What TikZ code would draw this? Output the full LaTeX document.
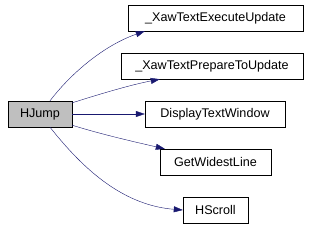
\documentclass[tikz,border=0pt]{standalone}
\usepackage{fontspec}
\setmainfont{Liberation Sans}
\usetikzlibrary{arrows.meta}
\definecolor{navyedge}{HTML}{191970}
\begin{document}
\begin{tikzpicture}[x=1pt,y=-1pt,
  fn/.style={draw, minimum height=26pt, inner sep=0pt, font=\fontsize{12.6}{14}\selectfont},
  call/.style={navyedge, -{Triangle[length=9pt,width=6pt]}}]
  % Cadre
  \useasboundingbox (0,0) rectangle (314,226);

  % Fonctions
  \node[fn, fill=gray!50, minimum width=64pt] (hjump) at (40,114) {HJump};
  \node[fn, minimum width=175pt] (exec) at (215.5,18) {\_XawTextExecuteUpdate};
  \node[fn, minimum width=182pt] (prep) at (212,66) {\_XawTextPrepareToUpdate};
  \node[fn, minimum width=140pt] (disp) at (215,114) {DisplayTextWindow};
  \node[fn, minimum width=111pt] (widest) at (215.5,162) {GetWidestLine};
  \node[fn, minimum width=65pt] (hscroll) at (215.5,210) {HScroll};

  % Appels
  \draw[call] ([xshift=10pt]hjump.north) .. controls (72,72) and (105,45) .. ([xshift=17pt]exec.south west);
  \draw[call] ([yshift=-2pt]hjump.north east) .. controls (100,94) and (130,85) .. ([xshift=39pt]prep.south west);
  \draw[call] (hjump.east) -- (disp.west);
  \draw[call] ([yshift=2pt]hjump.south east) .. controls (100,134) and (135,142) .. ([xshift=5pt]widest.north west);
  \draw[call] ([xshift=10pt]hjump.south) .. controls (80,165) and (120,205) .. (hscroll.west);
\end{tikzpicture}
\end{document}
